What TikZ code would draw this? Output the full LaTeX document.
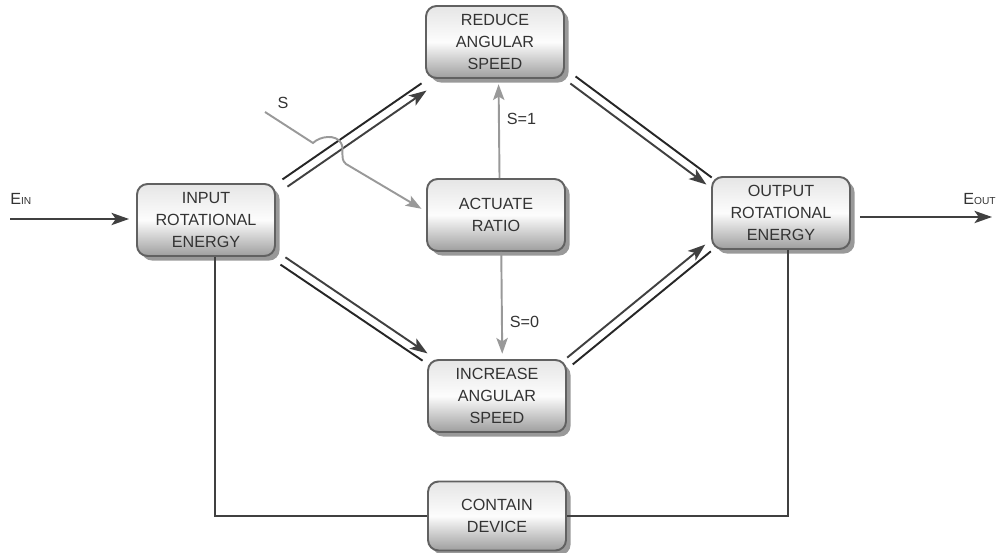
\documentclass[tikz,border=0pt]{standalone}
\usepackage{fontspec}
\setmainfont{Liberation Sans}
\usetikzlibrary{arrows.meta,positioning,calc}

\begin{document}
\begin{tikzpicture}[x=0.02cm, y=-0.02cm,
      blk/.style={draw=black!62, line width=1.1pt, rounded corners=6pt,
                  preaction={fill=black!40, draw=none,
                             transform canvas={shift={(2.6pt,-2.6pt)}}},
                  shading=axis, top color=black!10, bottom color=black!38, middle color=black!1,
                  minimum width=2.76cm, minimum height=1.44cm,
                  font=\fontsize{9.2}{12.5}\selectfont, text=black!80, align=center},
      lbl/.style={font=\fontsize{9.2}{11}\selectfont, text=black!80, inner sep=0pt},
      dline/.style={line width=1.1pt, color=black!85},
      darr/.style={-{Stealth[length=10pt, width=7pt, inset=2.5pt]}, line width=1.1pt, color=black!75},
      garr/.style={-{Stealth[length=9pt, width=6.5pt, inset=2pt]}, line width=1.1pt, color=black!40},
      cline/.style={line width=1.1pt, color=black!75}
  ]
    \useasboundingbox (0,0) rectangle (996,553);

    % blocks
    \node[blk] (in)  at (206,220) {INPUT\\ ROTATIONAL\\ ENERGY};
    \node[blk] (red) at (495,42)  {REDUCE\\ ANGULAR\\ SPEED};
    \node[blk] (act) at (496,215) {ACTUATE\\ RATIO};
    \node[blk] (inc) at (497,396) {INCREASE\\ ANGULAR\\ SPEED};
    \node[blk] (out) at (781,213) {OUTPUT\\ ROTATIONAL\\ ENERGY};
    \node[blk, minimum height=1.38cm] (con) at (497,516) {CONTAIN\\ DEVICE};

    % energy in / out
    \node[lbl, anchor=base west] (ein)  at (10,205)  {E{\fontsize{5.8}{6}\selectfont IN}};
    \node[lbl, anchor=base west] (eout) at (963,205) {E{\fontsize{5.8}{6}\selectfont OUT}};
    \coordinate (e0) at (10,219);
    \coordinate (e1) at (992,217);
    \draw[darr, shorten >=4pt] (e0) -- (in.west |- e0);
    \draw[darr, shorten <=5pt] (out.east |- e1) -- (e1);

    % power paths
    \coordinate (a1) at ($(in.north east)+(9,0)$);
    \coordinate (b1) at ($(red.south west)+(-1,8)$);
    \coordinate (a2) at ($(in.south east)+(7,4)$);
    \coordinate (b2) at ($(inc.north west)+(-2,-2)$);
    \coordinate (a3) at ($(red.south east)+(8,1)$);
    \coordinate (b3) at ($(out.north west)+(-2,5)$);
    \coordinate (a4) at ($(inc.north east)+(3,2)$);
    \coordinate (b4) at ($(out.south west)+(-3,-2)$);
    \draw[dline] ($(a1)!2.5pt!90:(b1)$) -- ($(b1)!2.5pt!-90:(a1)$);
    \draw[darr]  ($(a1)!2.5pt!-90:(b1)$) -- ($(b1)!2.5pt!90:(a1)$);
    \draw[dline] ($(a2)!2.5pt!-90:(b2)$) -- ($(b2)!2.5pt!90:(a2)$);
    \draw[darr]  ($(a2)!2.5pt!90:(b2)$) -- ($(b2)!2.5pt!-90:(a2)$);
    \draw[dline] ($(a3)!2.5pt!90:(b3)$) -- ($(b3)!2.5pt!-90:(a3)$);
    \draw[darr]  ($(a3)!2.5pt!-90:(b3)$) -- ($(b3)!2.5pt!90:(a3)$);
    \draw[dline] ($(a4)!2.5pt!-90:(b4)$) -- ($(b4)!2.5pt!90:(a4)$);
    \draw[darr]  ($(a4)!2.5pt!90:(b4)$) -- ($(b4)!2.5pt!-90:(a4)$);

    % switch signal
    \node[lbl] (s) at (283,103) {S};
    \coordinate (s0) at (265,112);
    \draw[garr, shorten >=3pt] (s0) -- (313,143)
        .. controls (320,136) and (336,134) .. (341,143)
        .. controls (345,150) and (339,158) .. (346,164)
        -- ([yshift=2pt]act.west);
    \draw[garr, shorten >=3pt] ([xshift=2pt]act.north) -- ([xshift=2pt]red.south)
        node[lbl, pos=0.6, right=4pt] (s1) {S=1};
    \draw[garr, shorten >=3pt] ([xshift=3pt]act.south) -- ([xshift=3pt]inc.north)
        node[lbl, pos=0.65, right=4pt] (s2) {S=0};

    % housing
    \draw[cline] ([xshift=5pt]in.south) |- (con.west);
    \draw[cline] ([xshift=4pt]out.south) |- (con.east);
\end{tikzpicture}
\end{document}
